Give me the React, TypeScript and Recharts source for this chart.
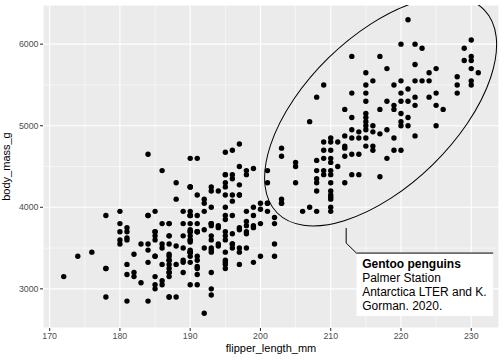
import { ScatterChart, Scatter, XAxis, YAxis, CartesianGrid, ReferenceLine, ReferenceDot } from 'recharts'

const FONT = '"Liberation Sans", Arial, Helvetica, sans-serif'

// [flipper_length_mm, body_mass_g]
const adelie: [number, number][] = [
  [181, 3750], [186, 3800], [195, 3250], [193, 3450], [190, 3650], [181, 3625], [195, 4675], [193, 3475], [190, 4250], [186, 3300],
  [180, 3700], [182, 3200], [191, 3800], [198, 4400], [185, 3700], [195, 3450], [197, 4500], [184, 3325], [194, 4200], [174, 3400],
  [180, 3600], [189, 3800], [185, 3950], [180, 3800], [187, 3800], [183, 3550], [187, 3200], [172, 3150], [180, 3950], [178, 3250],
  [178, 3900], [188, 3300], [184, 3900], [195, 3325], [196, 4150], [190, 3950], [180, 3550], [181, 3300], [184, 4650], [182, 3150],
  [195, 3900], [186, 3100], [196, 4400], [185, 3000], [190, 4600], [182, 3425], [190, 3450], [191, 4150], [186, 3500], [188, 4300],
  [190, 3450], [200, 4050], [187, 2900], [191, 3700], [186, 3550], [193, 3800], [181, 2850], [194, 3750], [185, 3150], [195, 4400],
  [185, 3600], [192, 4050], [184, 2850], [192, 3950], [195, 3350], [188, 4100], [190, 3050], [198, 4450], [190, 3600], [190, 3900],
  [196, 3550], [197, 4150], [190, 3700], [195, 4250], [191, 3700], [184, 3900], [187, 3550], [195, 4000], [189, 3200], [196, 4700],
  [187, 3800], [193, 4200], [191, 3350], [194, 3550], [190, 3800], [189, 3500], [189, 3950], [190, 3600], [202, 3550], [205, 4300],
  [185, 3400], [186, 4450], [187, 3300], [208, 4300], [190, 3700], [196, 4350], [178, 2900], [192, 4100], [192, 3725], [203, 4725],
  [183, 3075], [190, 4250], [193, 2925], [184, 3550], [199, 3750], [190, 3900], [181, 3175], [197, 4775], [198, 3825], [191, 4600],
  [193, 3200], [197, 4275], [191, 3900], [196, 4075], [188, 2900], [199, 3775], [189, 3350], [189, 3325], [187, 3150], [198, 3500],
  [176, 3450], [202, 3875], [186, 3050], [199, 4000], [191, 3275], [195, 4300], [191, 3050], [210, 4000], [190, 3325], [197, 3500],
  [193, 3500], [199, 4475], [187, 3425], [190, 3900], [191, 3175], [200, 3975], [185, 3400], [193, 4250], [187, 3400], [190, 3475],
  [185, 3050], [190, 3725], [193, 3000], [187, 3650], [190, 4250], [185, 3650], [190, 3450], [184, 3475], [195, 3700], [193, 4000],
]

const chinstrap: [number, number][] = [
  [192, 3500], [196, 3900], [193, 3650], [188, 3525], [197, 3725], [198, 3950], [178, 3250], [197, 3750], [195, 4150], [198, 3700],
  [193, 3800], [194, 3775], [185, 3700], [201, 4050], [190, 3575], [201, 4050], [197, 3300], [181, 3700], [190, 3450], [195, 4400],
  [181, 3600], [191, 3400], [187, 2900], [193, 3800], [195, 3300], [197, 4150], [200, 3400], [200, 3800], [191, 3700], [205, 4550],
  [187, 3200], [201, 4300], [187, 3350], [203, 4100], [195, 3600], [199, 3900], [195, 3850], [210, 4800], [192, 2700], [205, 4500],
  [210, 3950], [187, 3650], [196, 3550], [196, 3500], [196, 3675], [201, 4450], [190, 3400], [212, 4300], [187, 3250], [198, 3675],
  [199, 3325], [201, 3950], [193, 3600], [203, 4050], [187, 3350], [197, 3450], [191, 3250], [203, 4050], [202, 3800], [194, 3525],
  [206, 3950], [189, 3650], [195, 3650], [207, 4000], [202, 3400], [193, 3775], [210, 4100], [198, 3775],
]

const gentoo: [number, number][] = [
  [203, 4625], [207, 5050],
  [208, 5350], [208, 4575], [208, 4450], [208, 4350], [208, 4200], [208, 3950],
  [209, 5500], [209, 4800], [209, 4700], [209, 4600], [209, 4450], [209, 4400],
  [210, 4850], [210, 4700], [210, 4600], [210, 4550], [210, 4450], [210, 4400], [210, 4300], [210, 4200], [210, 4150], [210, 4125],
  [211, 4800], [211, 4500],
  [212, 5200], [212, 4875], [212, 4750], [212, 4725], [212, 4625],
  [213, 5850], [213, 5400], [213, 5100], [213, 4950], [213, 4850], [213, 4650], [213, 4400],
  [214, 4925], [214, 4850], [214, 4650], [214, 4400],
  [215, 5650], [215, 5500], [215, 5400], [215, 5300], [215, 5150], [215, 5100], [215, 5050], [215, 5000], [215, 4950], [215, 4850], [215, 4750],
  [216, 5550], [216, 5000], [216, 4925], [216, 4750], [216, 4700],
  [217, 5850], [217, 5200], [217, 4900], [217, 4375],
  [218, 5700], [218, 5300], [218, 4950], [218, 4600],
  [219, 5500], [219, 5250], [219, 5200], [219, 4850], [219, 4700],
  [220, 6000], [220, 5550], [220, 5400], [220, 5300], [220, 5150], [220, 5050], [220, 5000], [220, 4700],
  [221, 6300], [221, 5450], [221, 5300], [221, 5100], [221, 5000],
  [222, 6000], [222, 5750], [222, 5550], [222, 5350], [222, 5250], [222, 4875],
  [223, 5950], [223, 5550],
  [224, 5650], [224, 5550], [224, 5350],
  [225, 5700], [225, 5400], [225, 5250], [225, 5000],
  [226, 5200],
  [228, 5600], [228, 5500], [228, 5400],
  [229, 5950], [229, 5800],
  [230, 6050], [230, 5850], [230, 5800], [230, 5700], [230, 5550], [230, 5500],
  [231, 5650],
]

const xTicks = [170, 180, 190, 200, 210, 220, 230]
const yTicks = [3000, 4000, 5000, 6000]
const xMinor = [175, 185, 195, 205, 215, 225]
const yMinor = [3500, 4500, 5500]

// ellipse drawn round the Gentoo group, and where its label connector starts
const ellipseCentre = { x: 217.1, y: 5177 }
const labelAnchor = { x: 212.2, y: 3745 }
const labelTitle = 'Gentoo penguins'
const labelLines = ['Palmer Station', 'Antarctica LTER and K.', 'Gorman. 2020.']

const points = [...adelie, ...chinstrap, ...gentoo].map(([flipper, mass]) => ({
  flipper_length_mm: flipper,
  body_mass_g: mass,
}))

const tickStyle = { fill: '#4D4D4D', fontSize: 8.8, fontFamily: FONT }

function Dot(props: any) {
  return <circle cx={props.cx} cy={props.cy} r={2.7} fill="#000000" />
}

function EllipseShape(props: any) {
  const { cx, cy } = props
  return (
    <g clipPath={props.clipPath}>
      <ellipse
        cx={cx}
        cy={cy}
        rx={145}
        ry={74.6}
        transform={`rotate(-44.4 ${cx} ${cy})`}
        fill="none"
        stroke="#000000"
        strokeWidth={1}
      />
    </g>
  )
}

function LabelShape(props: any) {
  const { cx, cy } = props
  const boxX = cx + 10.3
  const boxY = cy + 25
  return (
    <g>
      <rect x={boxX} y={boxY} width={136.7} height={63} fill="#FFFFFF" />
      <path
        d={`M${cx},${cy} V${cy + 15} L${boxX},${boxY} H${cx + 147}`}
        fill="none"
        stroke="#000000"
        strokeWidth={1}
      />
      <text x={cx + 16} y={cy + 40} fontFamily={FONT} fontSize={12} fontWeight="bold" fill="#000000">
        {labelTitle}
      </text>
      {labelLines.map((line, i) => (
        <text key={line} x={cx + 16} y={cy + 54.2 + i * 14.1} fontFamily={FONT} fontSize={12} fill="#000000">
          {line}
        </text>
      ))}
    </g>
  )
}

function XTitle(props: any) {
  const vb = props.viewBox
  return (
    <text x={vb.x + vb.width / 2} y={vb.y + 24} textAnchor="middle" fontFamily={FONT} fontSize={11} fill="#000000">
      flipper_length_mm
    </text>
  )
}

function YTitle(props: any) {
  const vb = props.viewBox
  const x = vb.x + 9.5
  const y = vb.y + vb.height / 2
  return (
    <text x={x} y={y} textAnchor="middle" transform={`rotate(-90 ${x} ${y})`} fontFamily={FONT} fontSize={11} fill="#000000">
      body_mass_g
    </text>
  )
}

export default function App() {
  return (
    <div style={{ position: 'absolute', left: 0, top: 0, background: '#FFFFFF' }}>
      <ScatterChart width={504} height={360} margin={{ top: 5, right: 5, bottom: 0, left: 0 }}>
        <CartesianGrid stroke="#FFFFFF" strokeWidth={1.07} fill="#EBEBEB" fillOpacity={1} />
        {xMinor.map((v) => (
          <ReferenceLine key={`x${v}`} x={v} stroke="#FFFFFF" strokeWidth={0.53} />
        ))}
        {yMinor.map((v) => (
          <ReferenceLine key={`y${v}`} y={v} stroke="#FFFFFF" strokeWidth={0.53} />
        ))}
        <XAxis
          type="number"
          dataKey="flipper_length_mm"
          domain={[169.05, 233.95]}
          ticks={xTicks}
          allowDataOverflow
          height={32}
          tickSize={3}
          tickMargin={2}
          axisLine={false}
          tickLine={{ stroke: '#333333', strokeWidth: 1.07 }}
          tick={tickStyle}
          label={<XTitle />}
        />
        <YAxis
          type="number"
          dataKey="body_mass_g"
          domain={[2520, 6480]}
          ticks={yTicks}
          allowDataOverflow
          width={43}
          tickSize={3}
          tickMargin={1.5}
          axisLine={false}
          tickLine={{ stroke: '#333333', strokeWidth: 1.07 }}
          tick={tickStyle}
          label={<YTitle />}
        />
        <Scatter data={points} shape={<Dot />} isAnimationActive={false} />
        <ReferenceDot
          x={ellipseCentre.x}
          y={ellipseCentre.y}
          ifOverflow="hidden"
          shape={(p: any) => <EllipseShape {...p} />}
        />
        <ReferenceDot
          x={labelAnchor.x}
          y={labelAnchor.y}
          ifOverflow="visible"
          shape={(p: any) => <LabelShape {...p} />}
        />
      </ScatterChart>
    </div>
  )
}
